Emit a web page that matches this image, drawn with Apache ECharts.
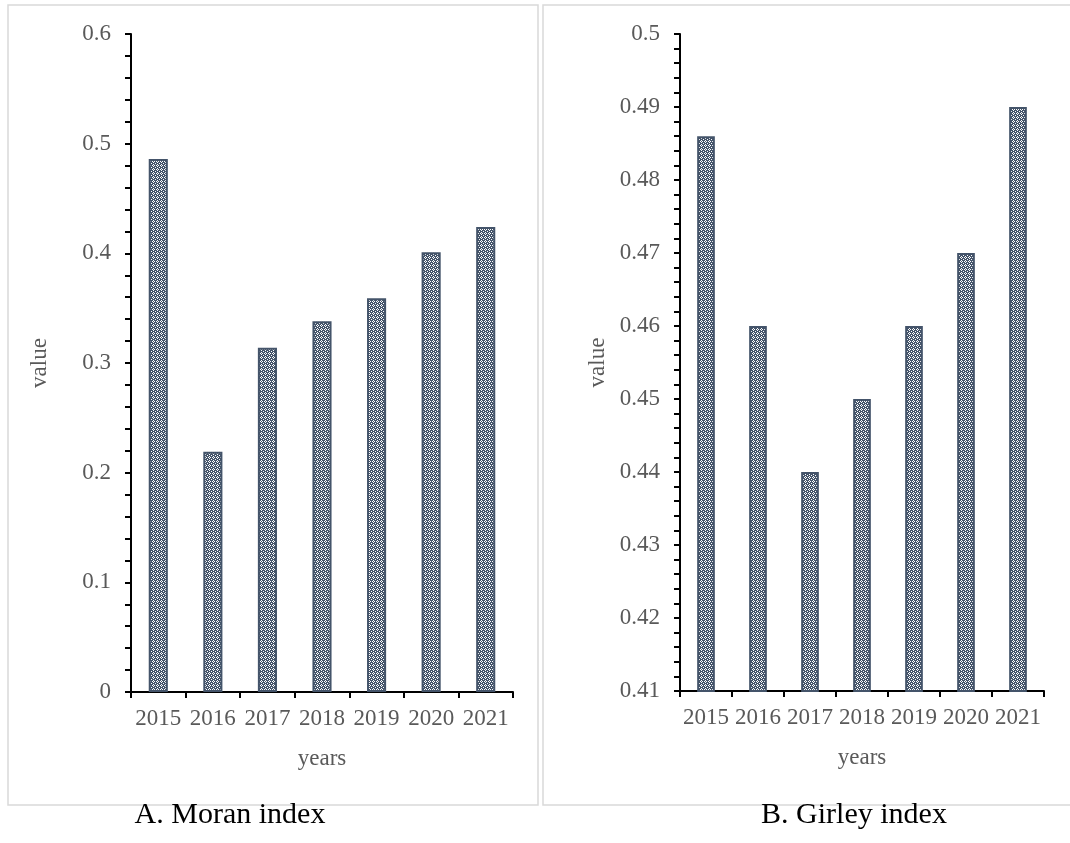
<!DOCTYPE html>
<html><head><meta charset="utf-8">
<script src="https://cdn.jsdelivr.net/npm/echarts@6/dist/echarts.min.js"></script>
<style>html,body{margin:0;padding:0;background:#fff}#c{width:1070px;height:843px}</style>
</head><body><div id="c"></div>
<script>
const years = ['2015','2016','2017','2018','2019','2020','2021'];
const moranValues = [0.486, 0.219, 0.314, 0.338, 0.359, 0.401, 0.424];
const girleyValues = [0.486, 0.46, 0.44, 0.45, 0.46, 0.47, 0.49];
const moranTicks = {min: 0, max: 0.6, interval: 0.1};
const girleyTicks = {min: 0.41, max: 0.5, interval: 0.01};
const captionA = 'A. Moran index';
const captionB = 'B. Girley index';

// pattern tile
const tile = document.createElement('canvas');
tile.width = 4; tile.height = 4;
const tc = tile.getContext('2d');
tc.fillStyle = '#44546A'; tc.fillRect(0,0,4,4);
tc.fillStyle = '#ffffff';
[[1,0],[0,1],[2,1],[1,2],[3,3]].forEach(p=>tc.fillRect(p[0],p[1],1,1));
const pattern = {image: tile, repeat: 'repeat'};

const serif = '"Liberation Serif", "Times New Roman", serif';
const gray = '#595959';

function xAxis(gi){
  return {type:'category', gridIndex:gi, data:years, boundaryGap:true,
    axisLine:{lineStyle:{color:'#000', width:2}},
    axisTick:{show:true, inside:false, length:6, lineStyle:{color:'#000', width:2}},
    axisLabel:{color:gray, fontFamily:serif, fontSize:23, margin:15, interval:0},
    name:'years', nameLocation:'middle', nameGap:55,
    nameTextStyle:{color:gray, fontFamily:serif, fontSize:23}};
}
function yAxis(gi, t, fmt, gap){
  return {type:'value', gridIndex:gi, min:t.min, max:t.max, interval:t.interval,
    axisLine:{show:true, lineStyle:{color:'#000', width:2}},
    axisTick:{show:true, inside:false, length:6, lineStyle:{color:'#000', width:2}},
    minorTick:{show:true, splitNumber:5, length:6, lineStyle:{color:'#000', width:2}},
    splitLine:{show:false},
    axisLabel:{color:gray, fontFamily:serif, fontSize:23, margin:20, formatter:fmt},
    name:'value', nameLocation:'middle', nameGap:gap, nameRotate:90,
    nameTextStyle:{color:gray, fontFamily:serif, fontSize:23}};
}
function fmtA(v){ return String(Math.round(v*10)/10); }
function fmtB(v){ return String(Math.round(v*100)/100); }

const chart = echarts.init(document.getElementById('c'), null, {renderer:'canvas'});
chart.setOption({
  animation:false,
  backgroundColor:'#fff',
  grid:[{left:131, top:34, width:382, height:658},
        {left:680, top:34, width:364, height:657}],
  xAxis:[xAxis(0), xAxis(1)],
  yAxis:[yAxis(0, moranTicks, fmtA, 80), yAxis(1, girleyTicks, fmtB, 71)],
  series:[
    {type:'bar', xAxisIndex:0, yAxisIndex:0, data:moranValues, barWidth:'35%',
     itemStyle:{color:pattern, borderColor:'#44546A', borderWidth:2}},
    {type:'bar', xAxisIndex:1, yAxisIndex:1, data:girleyValues, barWidth:'34%',
     itemStyle:{color:pattern, borderColor:'#44546A', borderWidth:2}}
  ],
  graphic:[
    {type:'rect', shape:{x:8, y:5, width:530, height:800}, style:{fill:null, stroke:'#D9D9D9', lineWidth:1.5}, z:-1},
    {type:'rect', shape:{x:543, y:5, width:540, height:800}, style:{fill:null, stroke:'#D9D9D9', lineWidth:1.5}, z:-1},
    {type:'text', x:230, y:815, style:{text:captionA, font:'30px '+serif, fill:'#000', textAlign:'center', textVerticalAlign:'middle'}},
    {type:'text', x:854, y:815, style:{text:captionB, font:'30px '+serif, fill:'#000', textAlign:'center', textVerticalAlign:'middle'}}
  ]
});
</script></body></html>
